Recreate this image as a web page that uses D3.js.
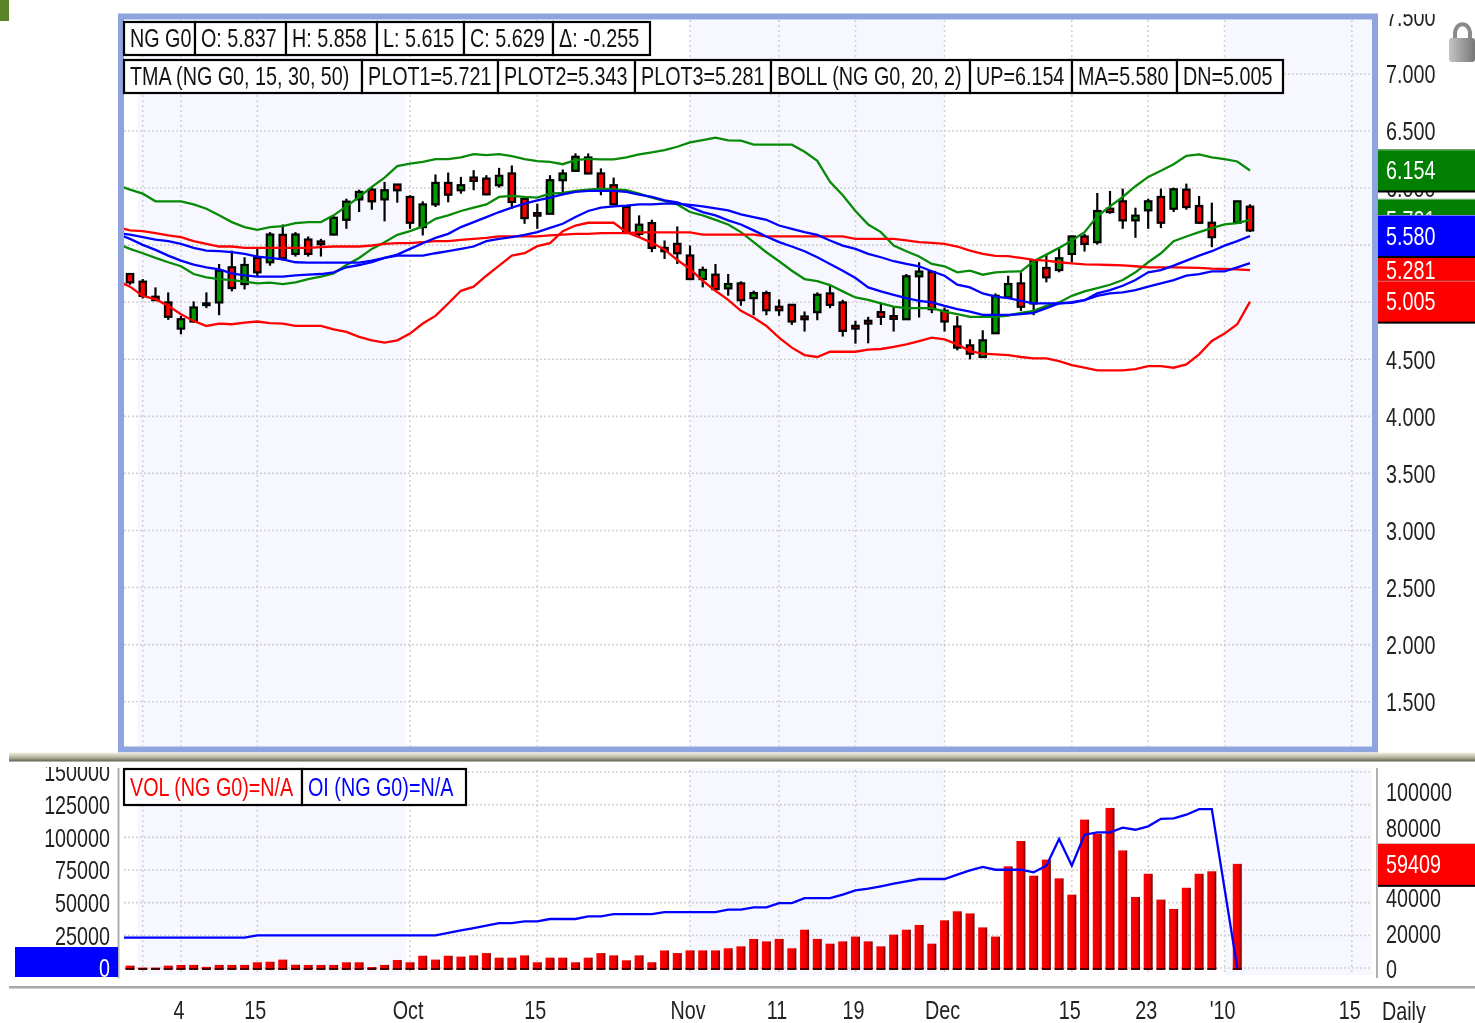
<!DOCTYPE html>
<html lang="en">
<head>
    <meta charset="UTF-8">
    <title>NG G0 Daily</title>
    <script src="https://d3js.org/d3.v7.min.js"></script>
    <style>
        html, body {
            margin: 0;
            padding: 0;
            background: #ffffff;
            overflow: hidden;
        }
        svg {
            display: block;
            filter: blur(0.6px);
        }
        text {
            font-family: "Liberation Sans", Arial, sans-serif;
        }
    </style>
</head>
<body>
<div id="chart"></div>
<script>
// every series runs over the session slots 0..89, slot 0 is the one cut off left of the plot
const highs = [null,
    5.247,5.203,5.130,5.086,4.880,5.007,5.086,5.335,5.452,5.394,
    5.467,5.614,5.681,5.614,5.576,5.555,5.752,5.907,5.986,6.004,
    6.054,6.033,5.937,5.884,6.119,6.136,6.098,6.157,6.113,6.177,
    6.198,5.928,5.863,6.113,6.163,6.304,6.304,6.172,6.092,5.840,
    5.761,5.723,5.541,5.664,5.497,5.312,5.335,5.247,5.183,5.101,
    5.101,5.024,4.983,4.919,5.086,5.145,5.021,4.837,4.872,4.998,
    4.960,5.247,5.350,5.277,4.954,4.878,4.675,4.754,5.077,5.232,
    5.262,5.370,5.417,5.476,5.585,5.599,5.957,5.975,5.995,5.828,
    5.907,5.995,6.004,6.039,5.931,5.872,null,5.884,5.858];
const opens = [null,
    5.247,5.180,5.048,4.998,4.769,4.831,4.990,4.998,5.306,5.159,
    5.388,5.350,5.590,5.423,5.549,5.532,5.593,5.722,5.901,5.986,
    5.901,6.031,5.922,5.658,5.857,6.045,5.981,6.092,6.083,6.025,
    6.128,5.905,5.781,5.775,6.069,6.151,6.268,6.128,6.025,5.834,
    5.599,5.693,5.476,5.511,5.409,5.203,5.241,5.121,5.165,5.036,
    5.080,4.960,4.977,4.875,4.913,5.077,4.998,4.793,4.837,4.913,
    4.878,4.851,5.227,5.265,4.925,4.787,4.622,4.520,4.728,5.042,
    5.165,4.989,5.300,5.282,5.423,5.576,5.526,5.819,5.884,5.717,
    5.805,5.922,5.819,5.986,5.843,5.696,null,5.696,5.837];
const closes = [null,
    5.174,5.056,5.018,4.872,4.851,4.954,4.975,5.276,5.124,5.326,
    5.262,5.593,5.385,5.593,5.423,5.508,5.740,5.881,5.966,5.884,
    5.981,5.981,5.696,5.857,6.045,5.942,6.025,6.063,5.945,6.107,
    5.878,5.737,5.758,6.069,6.128,6.274,6.128,5.975,5.858,5.608,
    5.679,5.476,5.447,5.429,5.203,5.283,5.115,5.159,5.018,5.080,
    4.930,4.930,4.831,4.851,5.065,4.977,4.749,4.769,4.813,4.872,
    4.854,5.227,5.268,4.939,4.831,4.602,4.549,4.666,5.056,5.159,
    4.960,5.359,5.218,5.385,5.576,5.511,5.799,5.790,5.717,5.758,
    5.884,5.696,5.989,5.834,5.696,5.570,null,5.884,5.629];
const lows = [null,
    5.153,5.033,5.012,4.845,4.719,4.822,4.948,4.886,5.095,5.112,
    5.224,5.320,5.364,5.400,5.400,5.400,5.585,5.643,5.790,5.810,
    5.708,5.872,5.643,5.585,5.834,5.875,5.951,5.981,5.937,6.004,
    5.819,5.687,5.643,5.770,5.937,6.142,6.122,5.937,5.849,5.599,
    5.564,5.438,5.379,5.335,5.197,5.130,5.106,5.057,4.969,4.886,
    4.886,4.881,4.801,4.743,4.842,4.948,4.699,4.637,4.640,4.801,
    4.743,4.845,4.866,4.904,4.743,4.578,4.499,4.514,4.725,5.036,
    4.924,4.886,5.174,5.262,5.350,5.444,5.505,5.775,5.643,5.564,
    5.643,5.649,5.790,5.810,5.687,5.482,null,5.696,5.615];

const bollUp = [6.025,
    5.986,5.951,5.884,5.884,5.884,5.857,5.819,5.761,5.702,5.658,
    5.634,5.658,5.667,5.693,5.702,5.702,5.761,5.840,5.922,6.010,
    6.092,6.192,6.215,6.230,6.253,6.253,6.268,6.297,6.289,6.297,
    6.280,6.253,6.236,6.230,6.209,6.245,6.256,6.251,6.251,6.268,
    6.295,6.312,6.333,6.362,6.400,6.421,6.441,6.418,6.415,6.380,
    6.380,6.380,6.380,6.318,6.239,6.054,5.937,5.799,5.681,5.614,
    5.496,5.447,5.400,5.335,5.315,5.262,5.276,5.241,5.262,5.268,
    5.271,5.359,5.417,5.476,5.541,5.614,5.752,5.840,5.922,6.016,
    6.098,6.151,6.209,6.283,6.295,6.268,6.253,6.233,6.154];
const bollMa = [5.599,
    5.555,5.502,5.458,5.408,5.364,5.329,5.306,5.288,5.253,5.235,
    5.224,5.224,5.224,5.235,5.241,5.247,5.262,5.306,5.326,5.350,
    5.388,5.417,5.467,5.517,5.564,5.599,5.658,5.702,5.746,5.790,
    5.828,5.863,5.893,5.916,5.945,5.966,5.975,5.975,5.975,5.966,
    5.942,5.922,5.893,5.875,5.834,5.790,5.761,5.717,5.681,5.629,
    5.576,5.526,5.488,5.447,5.394,5.335,5.276,5.212,5.130,5.095,
    5.065,5.036,5.012,4.998,4.968,4.939,4.918,4.889,4.889,4.889,
    4.895,4.907,4.948,4.989,5.001,5.018,5.077,5.106,5.144,5.194,
    5.262,5.282,5.320,5.364,5.408,5.447,5.496,5.535,5.580];
const bollDn = [5.188,
    5.136,5.056,5.027,4.968,4.895,4.836,4.792,4.813,4.807,4.822,
    4.831,4.816,4.813,4.792,4.792,4.792,4.763,4.740,4.696,4.666,
    4.646,4.666,4.725,4.813,4.880,4.989,5.100,5.136,5.232,5.320,
    5.408,5.429,5.491,5.517,5.623,5.672,5.696,5.696,5.696,5.614,
    5.570,5.520,5.461,5.370,5.291,5.188,5.100,5.021,4.924,4.866,
    4.792,4.690,4.602,4.537,4.520,4.566,4.566,4.566,4.584,4.590,
    4.608,4.631,4.660,4.690,4.675,4.631,4.572,4.549,4.543,4.537,
    4.520,4.508,4.508,4.484,4.449,4.426,4.402,4.402,4.402,4.414,
    4.440,4.440,4.426,4.455,4.543,4.660,4.725,4.807,5.005];
const tmaPlot1 = [5.511,
    5.467,5.429,5.388,5.350,5.315,5.247,5.218,5.203,5.194,5.180,
    5.165,5.171,5.159,5.174,5.203,5.224,5.253,5.326,5.388,5.467,
    5.526,5.590,5.623,5.664,5.731,5.761,5.799,5.828,5.857,5.922,
    5.931,5.922,5.916,5.951,5.957,5.975,5.986,5.995,5.989,5.981,
    5.951,5.916,5.887,5.857,5.790,5.761,5.722,5.681,5.614,5.526,
    5.438,5.359,5.276,5.203,5.185,5.150,5.095,5.042,5.021,4.989,
    4.962,4.948,4.948,4.948,4.918,4.895,4.872,4.872,4.872,4.883,
    4.907,4.924,4.968,4.998,5.056,5.095,5.124,5.153,5.194,5.262,
    5.350,5.429,5.535,5.576,5.614,5.649,5.681,5.693,5.721];
const tmaPlot2 = [5.605,
    5.593,5.570,5.549,5.535,5.511,5.476,5.452,5.447,5.438,5.423,
    5.400,5.388,5.376,5.350,5.347,5.347,5.347,5.347,5.347,5.364,
    5.388,5.408,5.408,5.408,5.429,5.447,5.467,5.488,5.535,5.555,
    5.570,5.590,5.614,5.652,5.687,5.746,5.799,5.828,5.840,5.846,
    5.857,5.857,5.863,5.863,5.852,5.840,5.822,5.805,5.769,5.746,
    5.722,5.672,5.643,5.614,5.590,5.541,5.496,5.467,5.423,5.394,
    5.359,5.335,5.315,5.271,5.232,5.153,5.130,5.077,5.048,5.036,
    5.012,4.989,4.989,4.989,4.995,5.018,5.056,5.077,5.086,5.106,
    5.136,5.165,5.194,5.232,5.247,5.271,5.271,5.306,5.343];
const tmaPlot3 = [5.658,
    5.629,5.623,5.605,5.585,5.570,5.535,5.511,5.488,5.488,5.476,
    5.476,5.476,5.476,5.476,5.476,5.482,5.488,5.488,5.488,5.497,
    5.511,5.517,5.517,5.526,5.535,5.535,5.546,5.555,5.564,5.576,
    5.576,5.576,5.576,5.585,5.593,5.599,5.599,5.605,5.605,5.605,
    5.611,5.611,5.611,5.611,5.611,5.593,5.593,5.593,5.593,5.593,
    5.576,5.576,5.576,5.576,5.576,5.576,5.576,5.555,5.555,5.555,
    5.555,5.541,5.526,5.520,5.511,5.488,5.452,5.423,5.406,5.403,
    5.388,5.370,5.364,5.350,5.341,5.332,5.329,5.326,5.323,5.315,
    5.306,5.306,5.306,5.303,5.300,5.294,5.291,5.288,5.281];

const volumes = [null,
    1900,800,800,1900,2300,2300,1200,2300,2300,2300,
    3800,4100,5300,2400,2300,2300,2300,3800,3800,1100,
    2300,5100,3800,7500,5300,7500,7000,7700,9000,6400,
    6400,7700,3800,6400,6400,3800,6400,9000,7700,4900,
    7700,3800,10500,9000,10500,10500,10500,11700,12800,16950,
    15600,17000,11700,22200,17000,14300,15600,18300,15600,12800,
    19400,22200,24900,14300,27500,32600,31400,23500,18300,58000,
    72300,52700,61800,51200,42000,84400,76400,91000,67000,40700,
    53800,39200,33900,45900,53800,55200,null,59409,null];
const openInterest = [23200,
    23200,23200,23200,23200,23200,23200,23200,23200,23200,23200,
    25000,25000,25000,25000,25000,25000,25000,25000,25000,25000,
    25000,25000,25000,25000,25000,26800,28800,30600,32400,34400,
    34400,35700,35700,37500,37500,37500,39500,39500,41300,41300,
    41300,41300,42800,42800,42800,42800,42800,44600,44600,46400,
    46400,49700,49700,53500,53500,53500,56100,59400,60700,62500,
    64500,66300,68100,68100,68100,71400,74700,77300,75200,75200,
    75200,73200,78300,98700,78300,102000,103800,103800,107400,105800,
    108400,114200,114500,117300,121600,121600,null,0,null];

const priceTicks = [7.5,7,6.5,6,5.5,5,4.5,4,3.5,3,2.5,2,1.5];
const oiTicks = [150000,125000,100000,75000,50000,25000];
const volTicks = [100000,80000,60000,40000,20000,0];
const timeSlots = [2,5,11,23,33,45,52,58,65,75,81,87,97];
const timeLabels = ["","4","15","Oct","15","Nov","11","19","Dec","15","23","'10","15"];
// shaded months, as slot ranges
const bandStart = [1.6,45,87];
const bandEnd = [22.7,65,98.6];

const headerOne = ["NG G0","O: 5.837","H: 5.858","L: 5.615","C: 5.629","\u0394: -0.255"];
const headerOneEdges = [124,195,286,377,464,553,650];
const headerTwo = ["TMA (NG G0, 15, 30, 50)","PLOT1=5.721","PLOT2=5.343","PLOT3=5.281","BOLL (NG G0, 20, 2)","UP=6.154","MA=5.580","DN=5.005"];
const headerTwoEdges = [124,362,498,635,771,970,1072,1177,1283];
const volHeader = ["VOL (NG G0)=N/A","OI (NG G0)=N/A"];
const volHeaderEdges = [124,302,466];

// last value tags, in paint order
const tagValues = [5.721,5.343,5.281,5.580,5.005,6.154];
const tagColors = ["#007f00","#0000ff","#ff0000","#0000ff","#ff0000","#007f00"];

const width = 1475, height = 1023;
const squeeze = 0.79;

const svg = d3.select("#chart").append("svg")
    .attr("width", width)
    .attr("height", height);

const defs = svg.append("defs");
defs.append("clipPath").attr("id", "plotClip").append("rect")
    .attr("x", 124).attr("y", 20).attr("width", 1248).attr("height", 726);
defs.append("clipPath").attr("id", "priceClip").append("rect")
    .attr("x", 0).attr("y", 14).attr("width", 97).attr("height", 738);
defs.append("clipPath").attr("id", "volClip").append("rect")
    .attr("x", 0).attr("y", 767).attr("width", width).attr("height", 211);

const barFill = defs.append("linearGradient").attr("id", "barFill");
barFill.append("stop").attr("offset", "0%").attr("stop-color", "#ff0000");
barFill.append("stop").attr("offset", "70%").attr("stop-color", "#ee0000");
barFill.append("stop").attr("offset", "100%").attr("stop-color", "#660000");

const sepFill = defs.append("linearGradient").attr("id", "sepFill").attr("x2", 0).attr("y2", 1);
sepFill.append("stop").attr("offset", "0%").attr("stop-color", "#f2f1e2");
sepFill.append("stop").attr("offset", "55%").attr("stop-color", "#b5b4a0");
sepFill.append("stop").attr("offset", "100%").attr("stop-color", "#5f5f50");

const lockFill = defs.append("linearGradient").attr("id", "lockFill");
lockFill.append("stop").attr("offset", "0%").attr("stop-color", "#c4c4c4");
lockFill.append("stop").attr("offset", "100%").attr("stop-color", "#777777");

// scales
const x = d3.scaleLinear().domain([0, 89]).range([117.3, 1250]);
const yPrice = d3.scaleLinear().domain([6.5, 1.5]).range([131, 701.7]);
const yOi = d3.scaleLinear().domain([0, 150000]).range([968, 772]);
const yVol = d3.scaleLinear().domain([0, 100000]).range([969, 792]);

// green corner block
svg.append("rect").attr("x", 0).attr("y", 0).attr("width", 9).attr("height", 21).attr("fill", "#5b8426");

function drawBands(top, bottom) {
    svg.selectAll(null)
        .data(bandStart)
        .enter()
        .append("rect")
        .attr("clip-path", "url(#plotClip)")
        .attr("x", d => x(d))
        .attr("y", top)
        .attr("width", (d, i) => Math.min(x(bandEnd[i]), 1372) - x(d))
        .attr("height", bottom - top)
        .attr("fill", "#f7f8ff");
}

function drawBandsLow(top, bottom) {
    svg.selectAll(null)
        .data(bandStart)
        .enter()
        .append("rect")
        .attr("x", d => x(d))
        .attr("y", top)
        .attr("width", (d, i) => Math.min(x(bandEnd[i]), 1372) - x(d))
        .attr("height", bottom - top)
        .attr("fill", "#f7f8ff");
}

function drawGrid(ticks, scale, top, bottom) {
    svg.selectAll(null)
        .data(timeSlots)
        .enter()
        .append("line")
        .attr("x1", d => x(d))
        .attr("x2", d => x(d))
        .attr("y1", top)
        .attr("y2", bottom)
        .attr("stroke", "#d2d2d2")
        .attr("stroke-width", 1.6)
        .attr("stroke-dasharray", "2,3");
    svg.selectAll(null)
        .data(ticks)
        .enter()
        .append("line")
        .attr("x1", 124)
        .attr("x2", 1372)
        .attr("y1", d => scale(d))
        .attr("y2", d => scale(d))
        .attr("stroke", "#d2d2d2")
        .attr("stroke-width", 1.6)
        .attr("stroke-dasharray", "2,2");
}

// --- main panel ---
drawBands(20, 746);
drawGrid(priceTicks.slice(1), yPrice, 20, 746);

const candles = svg.append("g").attr("clip-path", "url(#plotClip)");
const slots = d3.range(0, 90).filter(i => opens[i] !== null);

candles.selectAll("line")
    .data(slots)
    .enter()
    .append("line")
    .attr("x1", d => x(d))
    .attr("x2", d => x(d))
    .attr("y1", d => yPrice(highs[d]))
    .attr("y2", d => yPrice(lows[d]))
    .attr("stroke", "#000")
    .attr("stroke-width", 2.2);

candles.selectAll("rect")
    .data(slots)
    .enter()
    .append("rect")
    .attr("x", d => x(d) - 3.2)
    .attr("width", 6.4)
    .attr("y", d => yPrice(Math.max(opens[d], closes[d])))
    .attr("height", d => Math.abs(yPrice(opens[d]) - yPrice(closes[d])))
    .attr("fill", d => closes[d] < opens[d] ? "#ff0000" : "#009a00")
    .attr("stroke", "#000")
    .attr("stroke-width", 2.2);

const studyLine = d3.line()
    .x((d, i) => x(i))
    .y(d => yPrice(d));

[[bollUp, "#078a07"], [tmaPlot1, "#078a07"], [tmaPlot3, "#ff0000"], [bollDn, "#ff0000"], [bollMa, "#0000ff"], [tmaPlot2, "#0000ff"]]
    .forEach(s => {
        svg.append("path")
            .attr("clip-path", "url(#plotClip)")
            .attr("d", studyLine(s[0]))
            .attr("fill", "none")
            .attr("stroke", s[1])
            .attr("stroke-width", 2.3);
    });

// blue frame round the main panel
svg.append("rect")
    .attr("x", 121)
    .attr("y", 16.5)
    .attr("width", 1254)
    .attr("height", 733)
    .attr("fill", "none")
    .attr("stroke", "#8ea4de")
    .attr("stroke-width", 6);

function squeezeAxisText(g, dx) {
    g.select(".domain").remove();
    g.selectAll(".tick line").remove();
    g.selectAll("text")
        .attr("font-size", 25)
        .attr("font-family", '"Liberation Sans", Arial, sans-serif')
        .attr("fill", "#222")
        .attr("x", dx / squeeze)
        .attr("y", 0)
        .attr("dy", ".35em")
        .attr("transform", `scale(${squeeze},1)`);
}

function drawCells(labels, edges, top, bottom, colors) {
    const cells = svg.append("g");
    cells.selectAll("rect")
        .data(labels)
        .enter()
        .append("rect")
        .attr("x", (d, i) => edges[i])
        .attr("y", top)
        .attr("width", (d, i) => edges[i + 1] - edges[i])
        .attr("height", bottom - top)
        .attr("fill", "#fff")
        .attr("stroke", "#000")
        .attr("stroke-width", 2.2);
    cells.selectAll("text")
        .data(labels)
        .enter()
        .append("text")
        .attr("transform", (d, i) => `translate(${edges[i] + 6},${(top + bottom) / 2}) scale(${squeeze},1)`)
        .attr("dy", ".35em")
        .attr("font-size", 25)
        .attr("fill", (d, i) => colors ? colors[i] : "#111")
        .text(d => d);
}

drawCells(headerOne, headerOneEdges, 22, 55);
drawCells(headerTwo, headerTwoEdges, 60, 93);

const priceAxis = svg.append("g")
    .attr("transform", "translate(1378,0)")
    .attr("clip-path", "url(#priceClip)");
priceAxis.call(d3.axisRight(yPrice).tickValues(priceTicks).tickFormat(d3.format(".3f")).tickSize(0));
squeezeAxisText(priceAxis, 8);

// last value tags on the price axis
const tags = svg.append("g");
tagValues.forEach((v, i) => {
    tags.append("rect")
        .attr("x", 1378)
        .attr("y", yPrice(v) - 21)
        .attr("width", 97)
        .attr("height", 43)
        .attr("fill", "#000");
    tags.append("rect")
        .attr("x", 1378)
        .attr("y", yPrice(v) - 21)
        .attr("width", 97)
        .attr("height", 41)
        .attr("fill", tagColors[i]);
    tags.append("rect")
        .attr("x", 1378)
        .attr("y", yPrice(v) - 21)
        .attr("width", 97)
        .attr("height", 1)
        .attr("fill", "#ffffff")
        .attr("fill-opacity", 0.45);
    tags.append("text")
        .attr("transform", `translate(1386,${yPrice(v)}) scale(${squeeze},1)`)
        .attr("dy", ".35em")
        .attr("font-size", 25)
        .attr("fill", "#fff")
        .text(d3.format(".3f")(v));
});

// lock icon
const lock = svg.append("g").attr("transform", "translate(1449,24)");
lock.append("path")
    .attr("d", "M6,15 V10 C6,-3 21,-3 21,10 V15")
    .attr("fill", "none")
    .attr("stroke", "#8a8a8a")
    .attr("stroke-width", 4);
lock.append("rect")
    .attr("x", 0).attr("y", 14).attr("width", 26).attr("height", 24).attr("rx", 3)
    .attr("fill", "url(#lockFill)");

// separator between the panels
svg.append("rect")
    .attr("x", 9).attr("y", 752.5).attr("width", 1466).attr("height", 9)
    .attr("fill", "url(#sepFill)");

// --- volume panel ---
drawBandsLow(768, 975);
drawGrid(oiTicks.concat([0]), yOi, 770, 975);

const volSlots = d3.range(0, 90).filter(i => volumes[i] !== null);
svg.selectAll(null)
    .data(volSlots)
    .enter()
    .append("rect")
    .attr("x", d => x(d) - 4.5)
    .attr("width", 9)
    .attr("y", d => yVol(volumes[d]))
    .attr("height", d => yVol(0) - yVol(volumes[d]))
    .attr("fill", "url(#barFill)");
svg.selectAll(null)
    .data(volSlots)
    .enter()
    .append("rect")
    .attr("x", d => x(d) - 4.5)
    .attr("width", 9)
    .attr("y", yVol(0) - 1)
    .attr("height", 2)
    .attr("fill", "#4a0000");

const oiLine = d3.line()
    .x(d => x(d.slot))
    .y(d => yOi(d.value));

svg.append("path")
    .attr("clip-path", "url(#plotClipLow)")
    .attr("d", oiLine(d3.range(0, 90).filter(i => openInterest[i] !== null).map(i => ({ slot: i, value: openInterest[i] }))))
    .attr("fill", "none")
    .attr("stroke", "#0000ff")
    .attr("stroke-width", 2.3);
defs.append("clipPath").attr("id", "plotClipLow").append("rect")
    .attr("x", 124).attr("y", 767).attr("width", 1248).attr("height", 211);

drawCells(volHeader, volHeaderEdges, 769, 805, ["#ff0000", "#0000ff"]);

// panel edges
svg.append("line").attr("x1", 118.5).attr("x2", 118.5).attr("y1", 768).attr("y2", 978).attr("stroke", "#b0b0b0").attr("stroke-width", 2);
svg.append("line").attr("x1", 1377).attr("x2", 1377).attr("y1", 768).attr("y2", 978).attr("stroke", "#b0b0b0").attr("stroke-width", 2);
svg.append("rect").attr("x", 9).attr("y", 986).attr("width", 1466).attr("height", 2.5).attr("fill", "#a8a8a8");

const oiAxisWrap = svg.append("g").attr("clip-path", "url(#volClip)");
const oiAxis = oiAxisWrap.append("g").attr("transform", "translate(110,0)");
oiAxis.call(d3.axisLeft(yOi).tickValues(oiTicks).tickFormat(d3.format("d")).tickSize(0));
squeezeAxisText(oiAxis, 0);

const volAxisWrap = svg.append("g").attr("clip-path", "url(#volClip)");
const volAxis = volAxisWrap.append("g").attr("transform", "translate(1378,0)");
volAxis.call(d3.axisRight(yVol).tickValues(volTicks).tickFormat(d3.format("d")).tickSize(0));
squeezeAxisText(volAxis, 8);

// last value tags on the volume panel
svg.append("rect").attr("x", 1378).attr("y", yVol(59409) - 20).attr("width", 97).attr("height", 43).attr("fill", "#000");
svg.append("rect").attr("x", 1378).attr("y", yVol(59409) - 20).attr("width", 97).attr("height", 41).attr("fill", "#ff0000");
svg.append("text")
    .attr("transform", `translate(1386,${yVol(59409)}) scale(${squeeze},1)`)
    .attr("dy", ".35em")
    .attr("font-size", 25)
    .attr("fill", "#fff")
    .text(59409);

svg.append("rect").attr("x", 15).attr("y", 947).attr("width", 103).attr("height", 30).attr("fill", "#0000ff");
svg.append("text")
    .attr("transform", `translate(110,${yOi(0)}) scale(${squeeze},1)`)
    .attr("dy", ".35em")
    .attr("text-anchor", "end")
    .attr("font-size", 25)
    .attr("fill", "#fff")
    .text(0);

// time axis
const timeAxis = svg.append("g").attr("transform", "translate(-2.5,1010)");
timeAxis.call(d3.axisBottom(x).tickValues(timeSlots).tickFormat((d, i) => timeLabels[i]).tickSize(0));
squeezeAxisText(timeAxis, 0);

svg.append("text")
    .attr("transform", `translate(1382,1011) scale(${squeeze},1)`)
    .attr("dy", ".35em")
    .attr("font-size", 25)
    .attr("fill", "#222")
    .text("Daily");
</script>
</body>
</html>
